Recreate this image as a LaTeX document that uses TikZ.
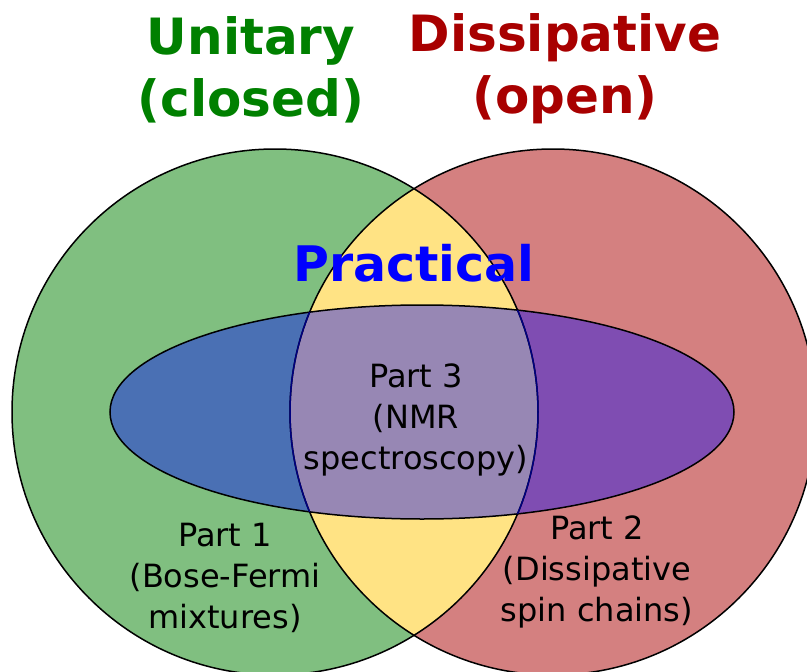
\documentclass[tikz,border=0pt]{standalone}
\usepackage{fontspec}
\setmainfont{DejaVu Sans}
\definecolor{cgreen}{HTML}{80BF80}
\definecolor{cred}{HTML}{D48080}
\definecolor{cyellow}{HTML}{FFE384}
\definecolor{cblue}{HTML}{4A70B4}
\definecolor{cpurple}{HTML}{7F4DB2}
\definecolor{cmid}{HTML}{9787B4}
\definecolor{tgreen}{HTML}{008000}
\definecolor{tred}{HTML}{A80000}
\definecolor{cnavy}{HTML}{000080}
\tikzset{
  title/.style={font=\bfseries\fontsize{50}{62}\selectfont, align=center},
  body/.style={font=\fontsize{32}{41}\selectfont, align=center, text=black},
  outline/.style={line width=1.5pt}
}
\begin{document}
\begin{tikzpicture}[x=1pt,y=-1pt]
\useasboundingbox (0,0) rectangle (807,672);
\def\LC{(275,412) circle (263pt)}
\def\RC{(553,412) circle (263pt)}
\def\EL{(422,412) ellipse (312pt and 107pt)}
\fill[cgreen] \LC;
\fill[cred] \RC;
\begin{scope}
  \clip \LC;
  \fill[cyellow] \RC;
\end{scope}
\begin{scope}
  \clip \EL;
  \fill[cblue] \LC;
  \fill[cpurple] \RC;
  \clip \LC;
  \fill[cmid] \RC;
\end{scope}
\draw[outline] \LC;
\draw[outline] \RC;
\draw[outline] \EL;
\begin{scope}
  \clip \EL;
  \draw[outline, cnavy] \LC;
  \draw[outline, cnavy] \RC;
\end{scope}
\node[title, text=tgreen] (unitary) at (251,70) {Unitary\\(closed)};
\node[title, text=tred] (dissip) at (565,69) {Dissipative\\(open)};
\node[font=\bfseries\fontsize{49}{60}\selectfont, text=blue] (practical) at (414,263) {Practical};
\node[body] (part3) at (416,420) {Part 3\\(NMR\\spectroscopy)};
\node[body] (part1) at (225,578) {Part 1\\(Bose-Fermi\\mixtures)};
\node[body] (part2) at (597,572) {Part 2\\(Dissipative\\spin chains)};
\end{tikzpicture}
\end{document}
